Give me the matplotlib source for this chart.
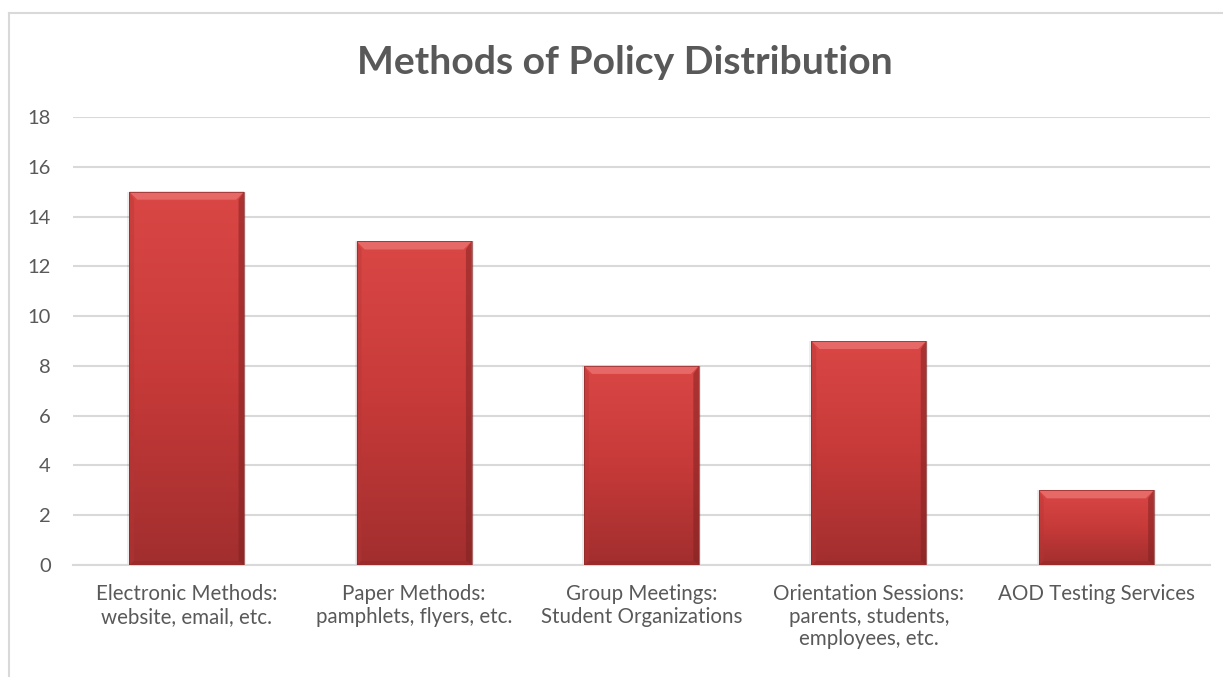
import numpy as np
import matplotlib.pyplot as plt
from matplotlib.patches import Polygon, Rectangle
from matplotlib.lines import Line2D
from matplotlib.colors import LinearSegmentedColormap

plt.rcParams['font.family'] = ['Lato', 'DejaVu Sans']

categories = [
    "Electronic Methods:\nwebsite, email, etc.",
    "Paper Methods:\npamphlets, flyers, etc.",
    "Group Meetings:\nStudent Organizations",
    "Orientation Sessions:\nparents, students,\nemployees, etc.",
    "AOD Testing Services",
]
counts = [15, 13, 8, 9, 3]
yticks = [0, 2, 4, 6, 8, 10, 12, 14, 16, 18]

text_gray = "#595959"
grid_gray = "#D9D9D9"

fig = plt.figure(figsize=(12.23, 6.77), dpi=100)
ax = fig.add_axes([73 / 1223, 1 - 565 / 677, (1210 - 73) / 1223, (565 - 117) / 677])

x = np.arange(len(categories))
bar_w = 0.505
bars = ax.bar(x, counts, width=bar_w, color="#C83C3A", zorder=3, linewidth=0)

ax.set_xlim(-0.5, len(categories) - 0.5)
ax.set_ylim(0, 18)

# pixels -> data units for bevel sizes
px_x = len(categories) / 1137
px_y = 18 / 448
bev = 8

grad = np.linspace(0, 1, 256).reshape(-1, 1)
cmap = LinearSegmentedColormap.from_list("bar", ["#A22E2E", "#C63A39", "#DA4745"])

for b, v in zip(bars, counts):
    x0 = b.get_x()
    w = b.get_width()
    x1 = x0 + w
    # soft shadow
    ax.add_patch(Rectangle((x0 - 2 * px_x, -3 * px_y), w + 4 * px_x, v + 3 * px_y,
                           facecolor="#000000", alpha=0.07, linewidth=0, zorder=2.5))
    im = ax.imshow(grad, cmap=cmap, aspect="auto", extent=(x0, x1, 0, v),
                   origin="lower", zorder=3.1, interpolation="bilinear")
    im.set_clip_path(b)
    bx = bev * px_x
    by = bev * px_y
    # top bevel (light)
    ax.add_patch(Polygon([(x0, v), (x1, v), (x1 - bx, v - by), (x0 + bx, v - by)],
                         closed=True, facecolor="#EA7370", alpha=0.8, linewidth=0, zorder=3.2))
    # left bevel
    ax.add_patch(Polygon([(x0, v), (x0 + bx * 0.6, v - by), (x0 + bx * 0.6, by * 0.5), (x0, 0)],
                         closed=True, facecolor="#B33636", alpha=0.4, linewidth=0, zorder=3.2))
    # right bevel (dark)
    ax.add_patch(Polygon([(x1, v), (x1 - bx * 0.7, v - by), (x1 - bx * 0.7, by * 0.5), (x1, 0)],
                         closed=True, facecolor="#7E2222", alpha=0.5, linewidth=0, zorder=3.2))
    # bottom bevel
    ax.add_patch(Polygon([(x0, 0), (x1, 0), (x1 - bx * 0.6, by * 0.5), (x0 + bx * 0.6, by * 0.5)],
                         closed=True, facecolor="#8E2828", alpha=0.35, linewidth=0, zorder=3.2))
    # thin dark outline
    ax.add_patch(Rectangle((x0, 0), w, v, fill=False, edgecolor="#8A2A2A",
                           linewidth=0.6, alpha=0.8, zorder=3.3))

ax.set_yticks(yticks)
ax.set_xticks(x)
ax.set_xticklabels(categories, fontsize=14.8, color=text_gray, linespacing=1.15)
ax.tick_params(axis="y", labelsize=14.5, labelcolor=text_gray, length=0, pad=16)
ax.tick_params(axis="x", length=0, pad=14)

ax.grid(axis="y", color=grid_gray, linewidth=1.5, zorder=0)
ax.set_axisbelow(True)
for s in ["top", "right", "left"]:
    ax.spines[s].set_visible(False)
ax.spines["bottom"].set_color(grid_gray)
ax.spines["bottom"].set_linewidth(1.5)

fig.text(0.511, 1 - 62 / 677, "Methods of Policy Distribution", ha="center", va="center",
         fontsize=28.2, fontweight="bold", color=text_gray)

# chart area border (left and top visible)
fig.add_artist(Line2D([8.5 / 1223, 8.5 / 1223], [0, 1 - 12.5 / 677], color=grid_gray, linewidth=1.5))
fig.add_artist(Line2D([8.5 / 1223, 1], [1 - 12.5 / 677, 1 - 12.5 / 677], color=grid_gray, linewidth=1.5))

fig.savefig("out.png", dpi=100)
